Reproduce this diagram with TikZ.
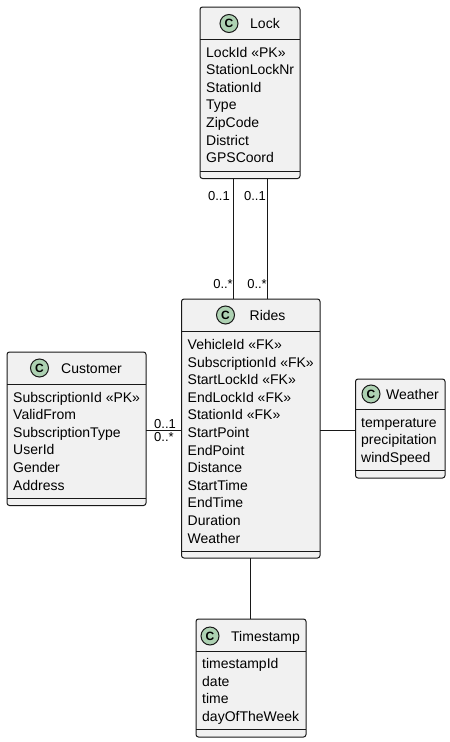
\documentclass[tikz,border=0pt]{standalone}
\usepackage{fontspec}
\setmainfont{Liberation Sans}
\definecolor{boxbg}{HTML}{F1F1F1}
\definecolor{boxline}{HTML}{181818}
\definecolor{iconfill}{HTML}{ADD1B2}
\tikzset{
  classbox/.style={draw=boxline, fill=boxbg, line width=1pt, rounded corners=2.5pt, inner sep=0pt, outer sep=0pt, anchor=north west},
  attr/.style={anchor=base west, inner sep=0pt, font=\fontsize{14}{16}\selectfont},
  cname/.style={anchor=base west, inner sep=0pt, font=\fontsize{14}{16}\selectfont},
  icon/.style={circle, draw=boxline, fill=iconfill, line width=1pt, minimum size=18pt, inner sep=0pt, font=\fontsize{12}{12}\selectfont\bfseries},
  sepline/.style={draw=boxline, line width=1pt},
  conn/.style={draw=boxline, line width=1pt},
  mult/.style={inner sep=0pt, font=\fontsize{13}{15}\selectfont},
}
\newcommand{\attrlist}[4]{% prefix, x, first baseline, list
  \foreach \t [count=\i from 0] in {#4} {\node[attr] (#1-\i) at (#2,{#3+17.6*\i}) {\t};}}
\begin{document}
\begin{tikzpicture}[x=1pt,y=-1pt]
\useasboundingbox (0,0) rectangle (450,742);

% Lock
\node[classbox, minimum width=100pt, minimum height=171.5pt] (lock) at (200,7) {};
\draw[sepline] (200,39) -- (300,39);
\draw[sepline] (200,171) -- (300,171);
\node[icon] (lock-icon) at (229,23.5) {C};
\node[cname] (lock-name) at (250,28.5) {Lock};
\attrlist{lock}{206}{57}{LockId «PK»,StationLockNr,StationId,Type,ZipCode,District,GPSCoord}

% Rides
\node[classbox, minimum width=138.5pt, minimum height=259pt] (rides) at (181.5,299) {};
\draw[sepline] (181.5,331) -- (320,331);
\draw[sepline] (181.5,551) -- (320,551);
\node[icon] (rides-icon) at (225.5,315) {C};
\node[cname] (rides-name) at (249.5,320) {Rides};
\attrlist{rides}{187.5}{349.5}{VehicleId «FK»,SubscriptionId «FK»,StartLockId «FK»,EndLockId «FK»,StationId «FK»,StartPoint,EndPoint,Distance,StartTime,EndTime,Duration,Weather}

% Customer
\node[classbox, minimum width=139pt, minimum height=153.5pt] (cust) at (7,352) {};
\draw[sepline] (7,384) -- (146,384);
\draw[sepline] (7,498) -- (146,498);
\node[icon] (cust-icon) at (39.5,368) {C};
\node[cname] (cust-name) at (61,373) {Customer};
\attrlist{cust}{13}{402}{SubscriptionId «PK»,ValidFrom,SubscriptionType,UserId,Gender,Address}

% Weather
\node[classbox, minimum width=89.5pt, minimum height=99pt] (weather) at (355.5,379) {};
\draw[sepline] (355.5,409) -- (445,409);
\draw[sepline] (355.5,470) -- (445,470);
\node[icon] (weather-icon) at (371,394) {C};
\node[cname] (weather-name) at (386,399) {Weather};
\attrlist{weather}{361}{427}{temperature,precipitation,windSpeed}

% Timestamp
\node[classbox, minimum width=110pt, minimum height=118pt] (ts) at (196,619) {};
\draw[sepline] (196,651) -- (306,651);
\draw[sepline] (196,729.5) -- (306,729.5);
\node[icon] (ts-icon) at (210,636) {C};
\node[cname] (ts-name) at (231,641) {Timestamp};
\attrlist{ts}{202}{668.5}{timestampId,date,time,dayOfTheWeek}

% connectors
\coordinate (lx1) at (233.5,0);
\coordinate (lx2) at (267,0);
\coordinate (cy) at (0,430);
\coordinate (tx) at (250,0);
\draw[conn] (lock.south -| lx1) -- (rides.north -| lx1);
\draw[conn] (lock.south -| lx2) -- (rides.north -| lx2);
\draw[conn] (cust.east |- cy) -- (rides.west |- cy);
\draw[conn] (rides.east |- cy) -- (weather.west |- cy);
\draw[conn] (rides.south -| tx) -- (ts.north -| tx);

% multiplicities
\node[mult, anchor=base east] (m1) at (230,200) {0..1};
\node[mult, anchor=base east] (m2) at (266,200) {0..1};
\node[mult, anchor=base east] (m3) at (233,288) {0..*};
\node[mult, anchor=base east] (m4) at (267,288) {0..*};
\node[mult, anchor=base west] (m5) at (154,428) {0..1};
\node[mult, anchor=base west] (m6) at (154,441.5) {0..*};
\end{tikzpicture}
\end{document}
